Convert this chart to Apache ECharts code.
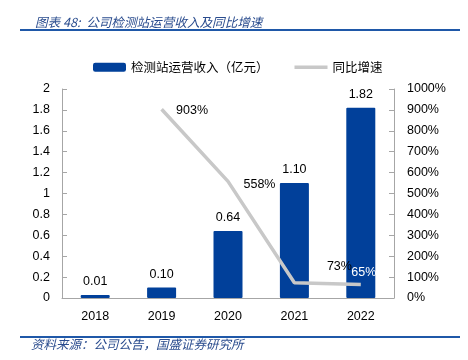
<!DOCTYPE html>
<html>
<head>
<meta charset="utf-8">
<script src="https://cdn.jsdelivr.net/npm/echarts@6/dist/echarts.min.js"></script>
<style>html,body{margin:0;padding:0;background:#fff}#c{width:468px;height:360px}</style>
</head>
<body>
<div id="c"></div>
<script>
var categories = ['2018', '2019', '2020', '2021', '2022'];
var revenue = [0.01, 0.10, 0.64, 1.10, 1.82];
var growth = [null, 903, 558, 73, 65];
var revenueName = '检测站运营收入（亿元）';
var growthName = '同比增速';
var titleText = '图表 48:  公司检测站运营收入及同比增速';
var sourceText = '资料来源：公司公告，国盛证券研究所';

var numFont = 'Liberation Sans';
var cjkFont = 'Noto Sans CJK SC';
var axisColor = '#A6A6A6';
var lineColor = '#C8C8C8';

var growthLabels = [
  null,
  { position: 'right', distance: 14, offset: [0, 1] },
  { position: 'right', distance: 15, offset: [0, 3] },
  { position: 'top', distance: 5, offset: [45, -4] },
  { position: 'top', distance: 5, offset: [3, 0], color: '#ffffff' }
];

var growthData = growth.map(function (v, i) {
  if (v === null) return '-';
  var o = { value: v };
  if (growthLabels[i]) o.label = growthLabels[i];
  return o;
});

var chart = echarts.init(document.getElementById('c'), null, { renderer: 'canvas' });
chart.setOption({
  animation: false,
  backgroundColor: '#ffffff',
  title: {
    text: titleText,
    left: 30, top: 11,
    textStyle: { fontFamily: cjkFont, fontStyle: 'italic', fontWeight: 'normal', fontSize: 12.6, color: '#2A4C8E' }
  },
  graphic: [
    { type: 'rect', shape: { x: 20, y: 29, width: 440, height: 2 }, style: { fill: '#1F58A8' } },
    { type: 'rect', shape: { x: 20, y: 336, width: 440, height: 2 }, style: { fill: '#1F58A8' } },
    { type: 'text', left: 31, top: 338, style: { text: sourceText, fontFamily: cjkFont, fontStyle: 'italic', fontSize: 12.5, fill: '#2A4C8E' } }
  ],
  legend: {
    left: 88, top: 56,
    itemWidth: 33, itemHeight: 9, itemGap: 26,
    textStyle: { fontFamily: cjkFont, fontSize: 12.5, color: '#000' },
    data: [
      { name: revenueName, icon: 'roundRect' },
      { name: growthName, icon: 'path://M0,0L30,0L30,3L0,3Z', itemStyle: { color: lineColor, opacity: 1 } }
    ]
  },
  grid: { left: 62, right: 74, top: 89, bottom: 62 },
  xAxis: {
    type: 'category',
    data: categories,
    axisLine: { lineStyle: { color: axisColor, width: 1 } },
    axisTick: { inside: true, length: 5, lineStyle: { color: axisColor } },
    axisLabel: { margin: 12, fontFamily: numFont, fontSize: 12.5, color: '#000' }
  },
  yAxis: [
    {
      type: 'value', min: 0, max: 2, interval: 0.2,
      splitLine: { show: false },
      axisLine: { show: true, lineStyle: { color: axisColor } },
      axisTick: { show: true, inside: true, length: 5, lineStyle: { color: axisColor } },
      axisLabel: { margin: 12, fontFamily: numFont, fontSize: 12.5, color: '#000' }
    },
    {
      type: 'value', min: 0, max: 1000, interval: 100,
      splitLine: { show: false },
      axisLine: { show: true, lineStyle: { color: axisColor } },
      axisTick: { show: true, inside: true, length: 5, lineStyle: { color: axisColor } },
      axisLabel: {
        margin: 13, fontFamily: numFont, fontSize: 12.5, color: '#000',
        formatter: function (v) { return v + '%'; }
      }
    }
  ],
  series: [
    {
      name: revenueName,
      type: 'bar',
      data: revenue,
      barWidth: 29,
      barMinHeight: 3,
      itemStyle: { color: '#01409A', borderRadius: 1 },
      label: {
        show: true, position: 'top', distance: 7,
        fontFamily: numFont, fontSize: 12.5, color: '#000',
        formatter: function (p) { return p.value.toFixed(2); }
      },
      z: 2
    },
    {
      name: growthName,
      type: 'line',
      yAxisIndex: 1,
      data: growthData,
      symbol: 'circle',
      symbolSize: 1,
      showSymbol: true,
      lineStyle: { color: lineColor, width: 3.5 },
      itemStyle: { color: 'rgba(0,0,0,0)' },
      label: {
        show: true,
        fontFamily: numFont, fontSize: 12.5, color: '#000',
        formatter: function (p) { return p.value + '%'; }
      },
      z: 3
    }
  ]
});
</script>
</body>
</html>
